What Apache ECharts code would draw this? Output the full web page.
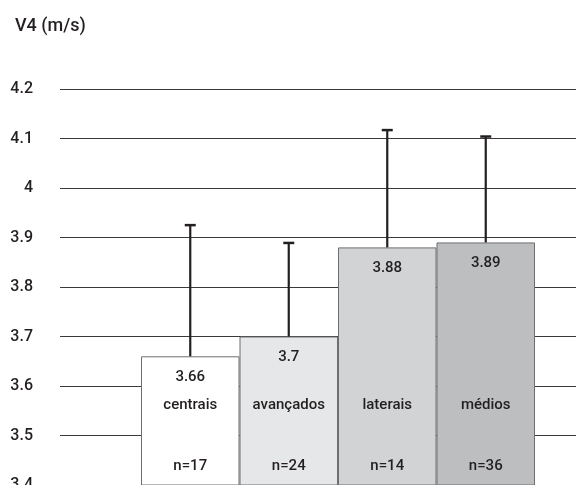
<!DOCTYPE html>
<html>
<head>
<meta charset="utf-8">
<script src="https://cdn.jsdelivr.net/npm/echarts@6/dist/echarts.min.js"></script>
<style>html,body{margin:0;padding:0;background:#fff}#c{width:576px;height:485px}</style>
</head>
<body>
<div id="c"></div>
<script>
var categories = ['centrais', 'avançados', 'laterais', 'médios'];
var means = [3.66, 3.7, 3.88, 3.89];
var upper = [3.925, 3.889, 4.117, 4.104];
var counts = [17, 24, 14, 36];
var barColors = ['#ffffff', '#e6e7e8', '#d1d3d4', '#bcbec0'];
var yTicks = { min: 3.4, max: 4.2, interval: 0.1 };

var font = 'Roboto';
var txt = '#231f20';
var chart = echarts.init(document.getElementById('c'));
chart.setOption({
  animation: false,
  title: { text: 'V4 (m/s)', left: 10, top: 12, textStyle: { fontFamily: font, fontSize: 18, fontWeight: 500, color: txt } },
  grid: [
    { left: 60, right: 0, top: 89, bottom: 0, outerBoundsMode: 'none', containLabel: false },
    { left: 141, right: 41, top: 89, bottom: 0, outerBoundsMode: 'none', containLabel: false }
  ],
  xAxis: [
    { gridIndex: 0, type: 'category', data: categories, show: false },
    { gridIndex: 1, type: 'category', data: categories, position: 'bottom', offset: 0, z: 10,
      axisLine: { show: false }, axisTick: { show: false },
      axisLabel: { inside: true, margin: 80, verticalAlign: 'middle', fontFamily: font, fontSize: 15, fontWeight: 500, color: txt } },
    { gridIndex: 1, type: 'category', data: counts.map(function (n) { return 'n=' + n; }), position: 'bottom', offset: 0, z: 10,
      axisLine: { show: false }, axisTick: { show: false },
      axisLabel: { inside: true, margin: 19, verticalAlign: 'middle', fontFamily: font, fontSize: 15, fontWeight: 500, color: txt } }
  ],
  yAxis: [
    { gridIndex: 0, type: 'value', min: yTicks.min, max: yTicks.max, interval: yTicks.interval,
      axisLine: { show: false }, axisTick: { show: false },
      axisLabel: { margin: 27, fontFamily: font, fontSize: 16, fontWeight: 500, color: txt },
      splitLine: { lineStyle: { color: '#3a3a3a', width: 1 } } },
    { gridIndex: 1, type: 'value', min: yTicks.min, max: yTicks.max, interval: yTicks.interval, show: false, splitLine: { show: false } }
  ],
  series: [
    { type: 'bar', xAxisIndex: 1, yAxisIndex: 1, barCategoryGap: '0%', z: 3,
      data: means.map(function (v, i) { return { value: v, itemStyle: { color: barColors[i] } }; }),
      itemStyle: { borderColor: '#6d6e71', borderWidth: 1 },
      label: { show: true, position: 'insideTop', distance: 13, fontFamily: font, fontSize: 15, fontWeight: 500, color: txt } },
    { type: 'custom', xAxisIndex: 1, yAxisIndex: 1, z: 4,
      data: means.map(function (v, i) { return [i, v, upper[i]]; }),
      renderItem: function (params, api) {
        var base = api.coord([api.value(0), api.value(1)]);
        var top = api.coord([api.value(0), api.value(2)]);
        var hw = 5.5;
        return { type: 'group', children: [
          { type: 'line', shape: { x1: base[0], y1: base[1], x2: top[0], y2: top[1] }, style: { stroke: '#231f20', lineWidth: 2.2 } },
          { type: 'line', shape: { x1: top[0] - hw, y1: top[1], x2: top[0] + hw, y2: top[1] }, style: { stroke: '#231f20', lineWidth: 2.5 } }
        ] };
      } }
  ]
});
</script>
</body>
</html>
